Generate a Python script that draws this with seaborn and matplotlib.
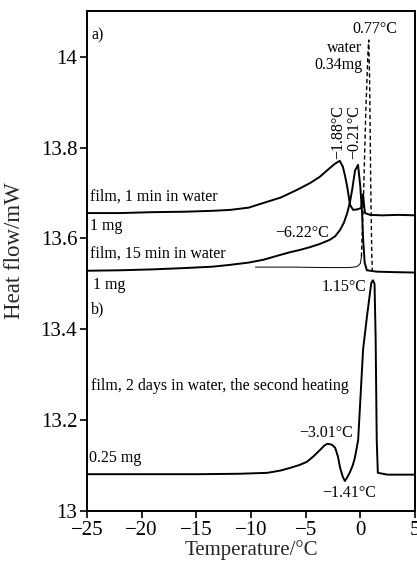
import matplotlib
matplotlib.use("Agg")
import matplotlib.pyplot as plt
import seaborn as sns
import pandas as pd

sns.set_style("ticks")
plt.rcParams["font.family"] = ["Liberation Serif", "DejaVu Serif"]
plt.rcParams["mathtext.fontset"] = "stix"

# DSC heating traces (temperature in °C, heat flow in mW)
t_1min = [-25, -22, -19, -16, -13.5, -11.9, -10.2, -8.9, -7.3, -5.8, -4.6, -3.7, -2.8,
          -2.3, -1.88, -1.6, -1.4, -1.2, -0.94, -0.66, -0.3, 0.07, 0.18, 0.25, 0.33,
          0.43, 0.9, 2.0, 3.5, 5]
hf_1min = [13.656, 13.656, 13.658, 13.659, 13.661, 13.663, 13.668, 13.678, 13.69, 13.707,
           13.722, 13.736, 13.755, 13.765, 13.771, 13.758, 13.738, 13.714, 13.674, 13.663,
           13.664, 13.667, 13.685, 13.697, 13.675, 13.656, 13.652, 13.651, 13.652, 13.651]

t_15min = [-25, -22, -19, -16, -13.5, -11.9, -10.2, -8.9, -7.3, -6.4, -5.5, -4.6, -3.7,
           -2.8, -2.3, -1.85, -1.5, -1.2, -0.95, -0.75, -0.48, -0.21, 0.0, 0.16, 0.25,
           0.4, 0.6, 1.5, 3.0, 5]
hf_15min = [13.529, 13.530, 13.532, 13.535, 13.538, 13.542, 13.547, 13.553, 13.564, 13.570,
            13.575, 13.581, 13.588, 13.597, 13.605, 13.619, 13.635, 13.656, 13.680, 13.707,
            13.750, 13.762, 13.714, 13.656, 13.600, 13.546, 13.530, 13.527, 13.526, 13.525]

# water reference: flat trace, then the melting peak drawn dashed
t_water_base = [-9.6, -6.0, -3.0, -1.0, -0.3, 0.0, 0.1]
hf_water_base = [13.537, 13.537, 13.536, 13.536, 13.538, 13.545, 13.560]
t_water_peak = [0.1, 0.3, 0.5, 0.7, 0.77, 0.85, 0.95, 1.05, 1.1]
hf_water_peak = [13.560, 13.700, 13.880, 14.010, 14.037, 13.950, 13.720, 13.560, 13.530]

t_2days = [-25, -20, -14.7, -11, -8.5, -7.3, -6.4, -5.6, -4.9, -4.3, -3.7, -3.3, -3.01,
           -2.6, -2.3, -2.05, -1.85, -1.6, -1.41, -1.2, -0.94, -0.7, -0.5, -0.2, 0.0,
           0.25, 0.6, 1.0, 1.15, 1.3, 1.4, 1.5, 1.6, 2.5, 5]
hf_2days = [13.081, 13.081, 13.081, 13.082, 13.084, 13.089, 13.095, 13.101, 13.108, 13.120,
            13.134, 13.144, 13.148, 13.146, 13.139, 13.120, 13.095, 13.075, 13.066, 13.074,
            13.086, 13.100, 13.117, 13.156, 13.244, 13.355, 13.427, 13.502, 13.508, 13.500,
            13.380, 13.156, 13.084, 13.080, 13.080]

xticks = [-25, -20, -15, -10, -5, 0, 5]
yticks = [13.0, 13.2, 13.4, 13.6, 13.8, 14.0]
ytick_labels = ["13", "13.2", "13.4", "13.6", "13.8", "14"]

fig = plt.figure(figsize=(4.17, 5.63), dpi=100)
ax = fig.add_axes([0.2086, 0.0924, 0.7866, 0.8881])

lw = 1.4
sns.lineplot(x=t_1min, y=hf_1min, ax=ax, color="black", lw=lw, sort=False)
sns.lineplot(x=t_15min, y=hf_15min, ax=ax, color="black", lw=lw, sort=False)
sns.lineplot(x=t_water_base, y=hf_water_base, ax=ax, color="black", lw=0.7, sort=False)
sns.lineplot(x=t_water_peak, y=hf_water_peak, ax=ax, color="black", lw=1.0,
             linestyle=(0, (3, 2)), sort=False)
sns.lineplot(x=t_2days, y=hf_2days, ax=ax, color="black", lw=lw, sort=False)

ax.set_xlim(-25, 5)
ax.set_ylim(13.0, 14.101)
ax.set_xticks(xticks)
ax.set_xticklabels([str(v).replace("-", "\u2212") for v in xticks])
ax.set_yticks(yticks)
ax.set_yticklabels(ytick_labels)
ax.tick_params(axis="both", direction="out", length=5, width=1.2, labelsize=15,
               colors="black", pad=2)
for sp in ax.spines.values():
    sp.set_linewidth(1.4)
    sp.set_color("black")

ax.set_xlabel("Temperature/°C", fontsize=15, labelpad=0)
ax.set_ylabel("Heat flow/mW", fontsize=16.5)
ax.yaxis.set_label_coords(-0.188, 0.52)

fs = 11.5
txt = dict(fontsize=fs, color="black")
ax.text(-24.63, 14.048, "a)", ha="left", va="center", **txt)
ax.text(1.30, 14.062, "0.77°C", ha="center", va="center", **txt)
ax.text(0.15, 14.020, "water", ha="right", va="center", **txt)
ax.text(0.24, 13.982, "0.34mg", ha="right", va="center", **txt)
ax.text(-2.04, 13.835, "\u22121.88°C", ha="center", va="center", rotation=90, **txt)
ax.text(-0.58, 13.835, "\u22120.21°C", ha="center", va="center", rotation=90, **txt)
ax.text(-24.73, 13.692, "film, 1 min in water", ha="left", va="center", **txt)
ax.text(-24.73, 13.628, "1 mg", ha="left", va="center", **txt)
ax.text(-24.73, 13.566, "film, 15 min in water", ha="left", va="center", **txt)
ax.text(-5.29, 13.612, "\u22126.22°C", ha="center", va="center", **txt)
ax.text(-24.45, 13.498, "1 mg", ha="left", va="center", **txt)
ax.text(0.61, 13.493, "1.15°C", ha="right", va="center", **txt)
ax.text(-24.63, 13.443, "b)", ha="left", va="center", **txt)
ax.text(-24.63, 13.275, "film, 2 days in water, the second heating", ha="left",
        va="center", **txt)
ax.text(-3.09, 13.172, "\u22123.01°C", ha="center", va="center", **txt)
ax.text(-0.99, 13.040, "\u22121.41°C", ha="center", va="center", **txt)
ax.text(-24.82, 13.117, "0.25 mg", ha="left", va="center", **txt)

fig.savefig("out.png", dpi=100)
